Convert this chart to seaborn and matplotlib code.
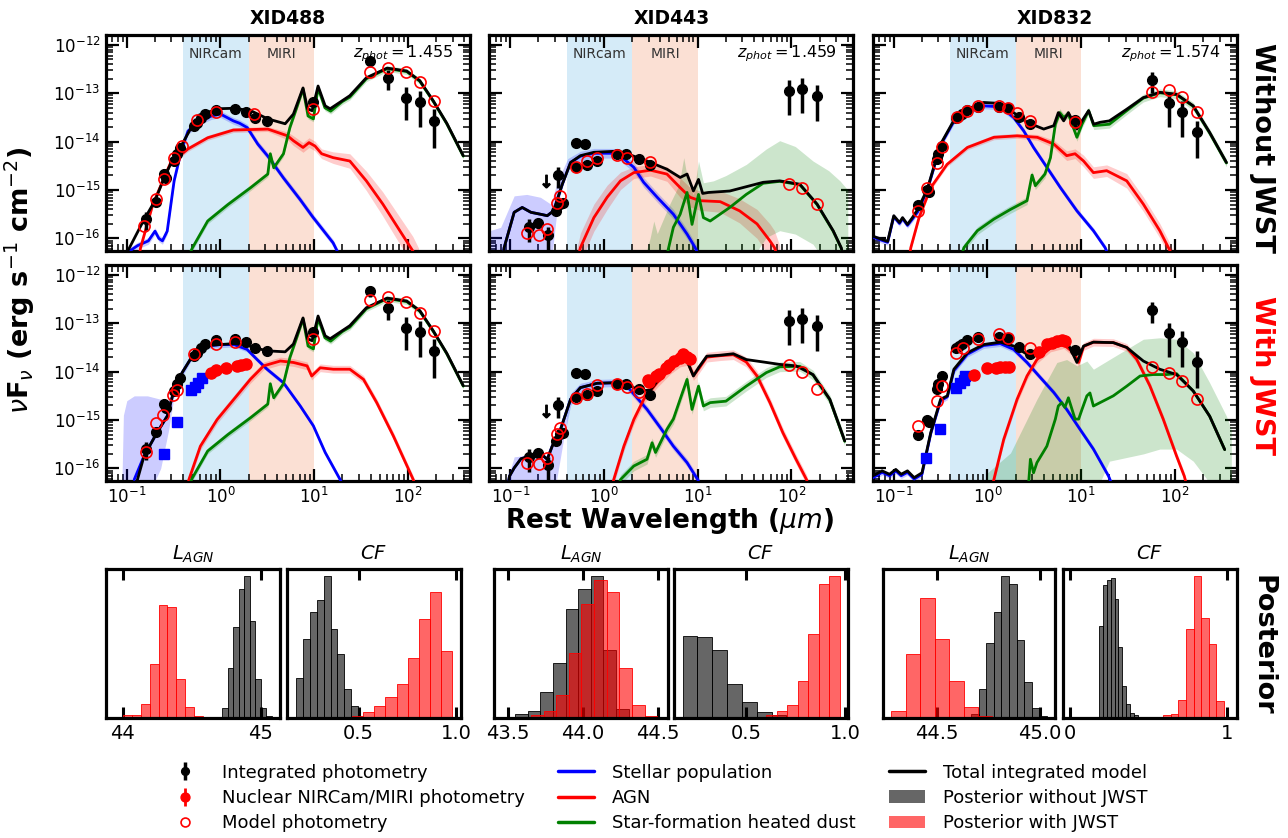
import numpy as np
import pandas as pd
import matplotlib
matplotlib.use("Agg")
import matplotlib.pyplot as plt
import seaborn as sns
from matplotlib.lines import Line2D
from matplotlib.patches import Patch
from matplotlib.ticker import FixedLocator, LogLocator, NullFormatter, LogFormatterSciNotation

sns.set_theme(style="ticks")
plt.rcParams["font.family"] = ["DejaVu Sans"]
plt.rcParams["mathtext.fontset"] = "dejavusans"
for k in ["axes.edgecolor", "xtick.color", "ytick.color", "text.color", "axes.labelcolor"]:
    plt.rcParams[k] = "black"

# ======================= DATA (log10 of nuFnu in erg/s/cm2, wavelength in micron) =======================
# ---------------- XID488 ----------------
phot488_wl = [0.159, 0.204, 0.249, 0.264, 0.318, 0.346, 0.366, 0.52, 0.565, 0.62, 0.676, 0.885, 1.44, 1.85, 2.36, 3.14, 9.6, 39.4, 61.7, 95.5, 136, 191]
phot488_lf = [-15.60, -15.24, -14.67, -14.75, -14.40, -14.26, -14.13, -13.67, -13.61, -13.51, -13.43, -13.34, -13.33, -13.38, -13.52, -13.57, -13.19, -12.33, -12.68, -13.09, -13.18, -13.57]
phot488_err = [0.4, 0.15, 0.3, 0.2, 0.15, 0.15, 0.15, 0.08, 0.08, 0.08, 0.08, 0.08, 0.08, 0.08, 0.08, 0.08, 0.15, 0.25, 0.45, 0.65, 0.7, 0.72]
mod488a_wl = [0.153, 0.204, 0.249, 0.318, 0.39, 0.565, 0.885, 2.26, 9.6, 39.4, 61.7, 95.5, 136, 191]
mod488a_lf = [-15.74, -15.19, -14.78, -14.33, -14.09, -13.56, -13.38, -13.43, -13.33, -12.57, -12.47, -12.57, -12.76, -13.16]
mod488b_wl = [0.16, 0.204, 0.245, 0.31, 0.34, 0.52, 0.885, 1.44, 9.6, 39.4, 61.7, 95.5, 136, 191]
mod488b_lf = [-15.66, -15.07, -14.90, -14.49, -14.37, -13.63, -13.42, -13.39, -13.33, -12.52, -12.46, -12.56, -12.78, -13.16]
nuc488_wl = [0.8, 0.9, 1.15, 1.5, 1.65, 1.85]
nuc488_lf = [-14.02, -13.96, -13.92, -13.88, -13.86, -13.85]
hst488_wl = [0.25, 0.346, 0.49, 0.53, 0.58, 0.64]
hst488_lf = [-15.71, -15.05, -14.37, -14.31, -14.24, -14.14]

star488a_wl = [0.10, 0.13, 0.17, 0.20, 0.22, 0.24, 0.27, 0.32, 0.38, 0.45, 0.61, 0.80, 1.0, 1.37, 1.6, 1.93, 2.5, 3.2, 4.7, 7.1, 9.6, 15.9, 18]
star488a_lf = [-16.3, -16.15, -16.05, -15.85, -16.0, -16.05, -15.85, -14.81, -14.2, -13.78, -13.57, -13.47, -13.43, -13.57, -13.62, -13.71, -14.05, -14.3, -14.75, -15.2, -15.55, -16.09, -16.3]
agn488a_wl = [0.13, 0.14, 0.19, 0.29, 0.45, 0.73, 1.37, 3.2, 5.2, 6.0, 7.6, 8.8, 10.2, 12.0, 15.9, 24, 36, 54, 82, 113, 130]
agn488a_lf = [-16.6, -16.2, -15.29, -14.46, -14.15, -13.92, -13.76, -13.74, -13.88, -13.98, -14.12, -14.02, -14.09, -14.25, -14.33, -14.40, -14.81, -15.29, -15.84, -16.26, -16.5]
agn488a_w = [0.05, 0.05, 0.05, 0.05, 0.05, 0.05, 0.05, 0.05, 0.08, 0.1, 0.1, 0.1, 0.1, 0.1, 0.12, 0.15, 0.2, 0.25, 0.28, 0.3, 0.3]
sf488_wl = [0.45, 0.5, 0.73, 1.2, 2.1, 3.2, 3.4, 3.7, 4.7, 5.5, 6.5, 7.6, 8.6, 9.8, 11.0, 13.0, 15.0, 20, 24, 36, 60, 97, 134, 187, 260, 390]
sf488_lf = [-16.4, -16.2, -15.64, -15.3, -14.95, -14.67, -14.25, -14.54, -14.25, -13.71, -13.30, -12.91, -13.47, -13.53, -12.89, -13.30, -13.37, -13.17, -13.08, -12.70, -12.49, -12.55, -12.75, -13.17, -13.63, -14.30]
tot488a_wl = [0.1, 0.15, 0.2, 0.25, 0.316, 0.39, 0.52, 0.66, 0.93, 1.4, 2.1, 3.2, 4.9, 6.0, 7.6, 8.5, 9.5, 11, 13.1, 14.8, 24, 36, 60, 97, 134, 187, 260, 390]
tot488a_lf = [-16.3, -15.64, -15.22, -14.75, -14.33, -14.05, -13.61, -13.43, -13.32, -13.31, -13.36, -13.53, -13.63, -13.43, -12.89, -13.32, -13.36, -12.85, -13.26, -13.32, -13.05, -12.68, -12.48, -12.54, -12.74, -13.16, -13.62, -14.29]

star488b_wl = [0.12, 0.153, 0.21, 0.27, 0.32, 0.39, 0.5, 0.72, 1.0, 1.39, 1.92, 2.46, 3.14, 4.7, 7.1, 9.8, 13.1, 18.9, 22]
star488b_lf = [-16.23, -15.74, -15.26, -14.92, -14.37, -14.02, -13.68, -13.47, -13.44, -13.44, -13.54, -13.75, -13.95, -14.23, -14.71, -15.12, -15.67, -16.23, -16.5]
star488b_bwl = [0.085, 0.088, 0.092, 0.10, 0.12, 0.166, 0.23, 0.28, 0.32, 0.39, 0.5, 0.72, 1.39, 1.92, 2.46, 3.14, 4.7, 7.1, 9.8, 13.1, 18.9, 22]
star488b_bhi = [-16.6, -16.6, -14.9, -14.6, -14.50, -14.50, -14.57, -14.7, -14.3, -13.95, -13.63, -13.42, -13.39, -13.49, -13.70, -13.90, -14.18, -14.66, -15.07, -15.62, -16.18, -16.45]
star488b_blo = [-16.6, -16.6, -16.6, -16.6, -16.6, -16.6, -16.0, -15.2, -14.5, -14.1, -13.73, -13.52, -13.49, -13.59, -13.80, -14.0, -14.28, -14.76, -15.17, -15.72, -16.28, -16.55]
agn488b_wl = [0.42, 0.46, 0.61, 0.92, 1.39, 2.08, 2.89, 4.35, 6.0, 8.4, 9.4, 11.6, 16, 24, 33.6, 46.5, 70, 114, 125]
agn488b_lf = [-16.6, -16.23, -15.54, -14.99, -14.57, -14.16, -13.88, -13.78, -13.81, -13.88, -14.09, -13.92, -13.95, -13.95, -14.16, -14.64, -15.33, -16.23, -16.45]
tot488b_wl = [0.12, 0.13, 0.153, 0.21, 0.27, 0.32, 0.39, 0.5, 0.72, 1.39, 1.92, 2.26, 3.14, 4.9, 6.0, 7.6, 8.5, 9.5, 11, 13.1, 14.8, 24, 36, 60, 97, 134, 187, 260, 390]
tot488b_lf = [-16.5, -16.23, -15.74, -15.26, -14.92, -14.37, -14.02, -13.68, -13.46, -13.42, -13.45, -13.50, -13.57, -13.59, -13.43, -12.89, -13.32, -13.36, -12.85, -13.26, -13.32, -13.05, -12.68, -12.48, -12.54, -12.74, -13.16, -13.62, -14.29]

# ---------------- XID443 ----------------
phot443_wl = [0.159, 0.20, 0.255, 0.305, 0.325, 0.339, 0.362, 0.50, 0.625, 0.50, 0.652, 0.846, 1.38, 1.73, 2.35, 3.07, 94.8, 130, 188]
phot443_lf = [-15.77, -15.69, -15.93, -15.43, -14.69, -15.29, -15.26, -14.02, -14.04, -14.52, -14.48, -14.41, -14.25, -14.25, -14.36, -14.48, -12.96, -12.92, -13.06]
phot443_err = [0.5, 0.2, 0.5, 0.15, 0.45, 0.15, 0.15, 0.08, 0.08, 0.08, 0.08, 0.08, 0.08, 0.08, 0.08, 0.08, 0.68, 0.68, 0.7]
ul443_wl = [0.239]
ul443_lf = [-14.81]
mod443a_wl = [0.152, 0.203, 0.245, 0.318, 0.339, 0.50, 0.652, 0.846, 1.38, 1.76, 3.07, 94.8, 130, 188]
mod443a_lf = [-15.88, -15.93, -15.81, -15.26, -15.13, -14.53, -14.41, -14.33, -14.27, -14.33, -14.42, -14.87, -14.96, -15.29]
mod443b_wl = [0.152, 0.203, 0.245, 0.318, 0.339, 0.50, 0.652, 0.846, 1.38, 1.76, 2.35, 94.8, 130, 188]
mod443b_lf = [-15.88, -15.90, -15.78, -15.28, -15.16, -14.54, -14.47, -14.28, -14.26, -14.32, -14.42, -13.87, -14.01, -14.35]
nuc443_wl = [2.95, 3.05, 3.6, 3.9, 4.6, 5.0, 5.6, 6.4, 7.0, 7.6, 8.3]
nuc443_lf = [-14.17, -14.22, -14.09, -14.04, -13.92, -13.86, -13.79, -13.72, -13.64, -13.69, -13.73]

star443a_wl = [0.08, 0.086, 0.11, 0.134, 0.166, 0.21, 0.248, 0.29, 0.359, 0.44, 0.56, 0.78, 1.27, 1.5, 2.08, 2.65, 3.7, 5.5, 7.7, 9.4, 10.5]
star443a_lf = [-16.6, -16.19, -15.46, -15.36, -15.46, -15.50, -15.53, -15.43, -14.88, -14.43, -14.30, -14.24, -14.24, -14.30, -14.53, -14.84, -15.15, -15.50, -15.91, -16.19, -16.4]
star443a_bwl = [0.06, 0.079, 0.11, 0.15, 0.21, 0.27, 0.32, 0.41, 0.56, 0.78, 1.27, 1.5, 2.08, 2.65, 3.7, 5.5, 7.7, 9.4, 10.5]
star443a_bhi = [-15.84, -15.77, -15.12, -15.09, -15.15, -15.29, -14.81, -14.35, -14.20, -14.14, -14.14, -14.20, -14.43, -14.74, -15.05, -15.40, -15.81, -16.09, -16.3]
star443a_blo = [-16.6, -16.6, -16.6, -16.6, -16.6, -16.6, -15.3, -14.55, -14.40, -14.34, -14.34, -14.40, -14.63, -14.94, -15.25, -15.60, -16.01, -16.29, -16.5]
agn443a_wl = [0.5, 0.56, 0.78, 1.08, 1.5, 2.08, 3.13, 4.7, 6.5, 8.3, 10.6, 17.4, 28, 43, 59, 66, 75]
agn443a_lf = [-16.6, -16.19, -15.57, -15.15, -14.81, -14.64, -14.59, -14.67, -14.95, -15.15, -15.22, -15.24, -15.43, -15.70, -16.05, -16.19, -16.5]
agn443a_w = [0.3, 0.3, 0.28, 0.25, 0.18, 0.12, 0.12, 0.15, 0.2, 0.2, 0.2, 0.22, 0.25, 0.3, 0.35, 0.35, 0.35]
sf443a_wl = [4.5, 4.9, 5.5, 6.5, 7.7, 8.7, 10.2, 11.5, 13.6, 22, 33, 50, 75, 123, 188, 279, 340, 360]
sf443a_lf = [-16.5, -16.19, -15.77, -15.50, -15.05, -15.71, -15.09, -15.57, -15.64, -15.36, -15.09, -14.86, -14.82, -14.89, -15.30, -15.85, -16.2, -16.4]
sf443a_bwl = [2.5, 3.1, 3.4, 3.7, 5.0, 6.3, 7.1, 8.0, 9.0, 10.2, 11.5, 14.7, 20, 33, 54, 75, 110, 170, 250, 330, 400]
sf443a_bhi = [-16.6, -16.0, -15.64, -15.9, -15.3, -14.9, -14.33, -14.9, -15.1, -14.40, -14.85, -14.81, -14.7, -14.47, -14.15, -13.98, -14.1, -14.4, -14.6, -14.81, -15.0]
sf443a_blo = [-16.6, -16.6, -16.6, -16.6, -16.6, -16.6, -16.6, -16.6, -16.6, -16.6, -16.6, -16.6, -16.6, -16.6, -15.98, -15.84, -15.91, -16.12, -16.6, -16.6, -16.6]
tot443a_wl = [0.08, 0.086, 0.11, 0.134, 0.166, 0.21, 0.248, 0.29, 0.359, 0.44, 0.56, 0.78, 1.27, 1.76, 2.88, 4.7, 6.5, 7.7, 9.0, 10.2, 11.3, 13, 22, 50, 75, 123, 188, 279, 340, 360]
tot443a_lf = [-16.6, -16.19, -15.46, -15.36, -15.46, -15.50, -15.53, -15.43, -14.88, -14.43, -14.29, -14.22, -14.20, -14.25, -14.40, -14.57, -14.74, -14.67, -15.02, -14.78, -15.07, -15.05, -15.02, -14.84, -14.81, -14.88, -15.29, -15.84, -16.19, -16.4]

star443b_wl = [0.09, 0.098, 0.11, 0.13, 0.166, 0.21, 0.248, 0.28, 0.344, 0.44, 0.56, 0.846, 1.27, 1.76, 2.25, 2.88, 4.0, 5.5, 7.7, 10, 11]
star443b_lf = [-16.6, -16.16, -15.99, -15.80, -15.74, -15.69, -15.81, -15.54, -15.19, -14.57, -14.33, -14.24, -14.23, -14.30, -14.54, -14.78, -15.16, -15.54, -15.88, -16.23, -16.4]
star443b_bwl = [0.085, 0.093, 0.11, 0.15, 0.248, 0.29, 0.37, 0.44, 0.56, 0.846, 1.27, 1.76, 2.25, 2.88, 4.0, 5.5, 7.7, 10, 11]
star443b_bhi = [-16.6, -16.23, -15.76, -15.73, -15.76, -15.42, -14.93, -14.45, -14.24, -14.16, -14.15, -14.22, -14.46, -14.70, -15.08, -15.46, -15.80, -16.15, -16.3]
star443b_blo = [-16.6, -16.6, -16.6, -16.6, -16.6, -16.6, -15.4, -14.7, -14.42, -14.32, -14.31, -14.38, -14.62, -14.86, -15.24, -15.62, -15.96, -16.31, -16.5]
agn443b_wl = [1.15, 1.27, 1.63, 2.08, 2.66, 3.68, 5.1, 6.5, 7.7, 9.0, 10.2, 12.5, 17.4, 24, 33, 43, 59, 81, 112, 145, 160]
agn443b_lf = [-16.6, -16.23, -15.54, -14.99, -14.57, -14.23, -13.95, -13.80, -13.77, -14.08, -13.95, -13.70, -13.67, -13.65, -13.80, -14.09, -14.64, -15.26, -15.81, -16.23, -16.5]
sf443b_wl = [1.3, 1.5, 2.08, 2.88, 3.26, 3.55, 4.7, 5.5, 6.5, 7.7, 8.7, 10.2, 11.5, 13.6, 20, 33, 54, 75, 123, 170, 257, 371]
sf443b_lf = [-16.6, -16.23, -15.95, -15.81, -15.47, -15.67, -15.19, -14.98, -14.57, -14.16, -14.78, -14.30, -14.71, -14.64, -14.61, -14.30, -14.02, -13.90, -13.89, -14.07, -14.58, -15.44]
tot443b_wl = [0.09, 0.098, 0.11, 0.13, 0.166, 0.21, 0.248, 0.28, 0.344, 0.44, 0.56, 0.846, 1.27, 1.76, 2.44, 3.13, 4.33, 6.5, 7.7, 9.0, 10.2, 12.5, 17.4, 24, 33, 50, 75, 112, 170, 257, 371]
tot443b_lf = [-16.6, -16.16, -15.99, -15.80, -15.74, -15.69, -15.81, -15.54, -15.19, -14.57, -14.33, -14.24, -14.23, -14.26, -14.40, -14.38, -14.02, -13.78, -13.78, -14.09, -13.92, -13.68, -13.66, -13.63, -13.75, -13.80, -13.85, -13.88, -14.06, -14.57, -15.43]

# ---------------- XID832 ----------------
phot832_wl = [0.18, 0.228, 0.235, 0.286, 0.30, 0.33, 0.457, 0.496, 0.54, 0.60, 0.79, 1.32, 1.65, 2.15, 2.87, 8.6, 56.5, 87, 120, 174]
phot832_lf = [-15.31, -15.00, -15.05, -14.36, -14.26, -14.10, -13.52, -13.47, -13.43, -13.35, -13.28, -13.28, -13.31, -13.50, -13.64, -13.56, -12.73, -13.21, -13.38, -13.81]
phot832_err = [0.1, 0.1, 0.1, 0.1, 0.1, 0.1, 0.08, 0.08, 0.08, 0.08, 0.08, 0.08, 0.08, 0.08, 0.08, 0.1, 0.45, 0.68, 0.7, 0.7]
mod832a_wl = [0.18, 0.228, 0.286, 0.33, 0.476, 0.60, 0.79, 1.32, 1.65, 2.07, 2.87, 8.6, 56.5, 87, 120, 174]
mod832a_lf = [-15.43, -14.95, -14.45, -14.12, -13.49, -13.36, -13.27, -13.26, -13.30, -13.40, -13.58, -13.60, -12.98, -12.94, -13.07, -13.38]
mod832b_wl = [0.18, 0.286, 0.33, 0.457, 0.55, 0.79, 1.32, 1.65, 2.87, 56.5, 87, 120, 174]
mod832b_lf = [-15.12, -14.61, -14.30, -13.61, -13.52, -13.32, -13.22, -13.30, -13.52, -13.90, -14.02, -14.19, -14.57]
nuc832_wl = [0.716, 1.0, 1.22, 1.37, 1.55, 1.69, 3.52, 4.3, 4.9, 5.5, 6.2, 6.8]
nuc832_lf = [-14.06, -13.92, -13.92, -13.90, -13.90, -13.90, -13.59, -13.42, -13.40, -13.37, -13.35, -13.37]
hst832_wl = [0.223, 0.311, 0.457, 0.508, 0.56, 0.58]
hst832_lf = [-15.78, -15.18, -14.33, -14.24, -14.17, -14.10]

star832a_wl = [0.059, 0.086, 0.10, 0.115, 0.124, 0.14, 0.158, 0.18, 0.228, 0.316, 0.438, 0.61, 0.91, 1.37, 1.9, 2.44, 3.1, 4.3, 6.0, 9.0, 13.5, 18, 20]
star832a_lf = [-15.97, -16.08, -15.55, -15.69, -15.59, -15.73, -15.60, -15.45, -15.0, -14.07, -13.58, -13.37, -13.26, -13.28, -13.50, -13.78, -14.12, -14.53, -14.95, -15.43, -15.84, -16.19, -16.4]
agn832a_wl = [0.14, 0.152, 0.186, 0.248, 0.37, 0.61, 1.17, 2.07, 3.4, 5.1, 7.0, 8.6, 10.6, 13.5, 18.7, 30.6, 46, 69, 89, 100]
agn832a_lf = [-16.6, -16.19, -15.57, -14.95, -14.47, -14.12, -13.91, -13.88, -13.91, -14.05, -14.29, -14.25, -14.40, -14.64, -14.60, -14.81, -15.29, -15.84, -16.26, -16.5]
agn832a_w = [0.05, 0.05, 0.05, 0.05, 0.05, 0.05, 0.05, 0.05, 0.06, 0.08, 0.1, 0.1, 0.12, 0.12, 0.12, 0.15, 0.15, 0.15, 0.15, 0.15]
sf832a_wl = [0.5, 0.56, 0.78, 1.17, 1.76, 2.64, 2.99, 3.24, 4.1, 4.7, 5.3, 5.9, 6.5, 7.3, 9.0, 10.2, 12, 13.6, 20, 30.6, 46, 69, 104, 157, 235, 355]
sf832a_lf = [-16.5, -16.19, -15.84, -15.60, -15.40, -15.22, -14.69, -14.91, -14.67, -14.33, -13.64, -13.40, -13.50, -13.43, -13.91, -13.64, -13.36, -13.67, -13.64, -13.36, -13.10, -12.99, -13.03, -13.27, -13.82, -14.44]
tot832a_wl = [0.059, 0.086, 0.10, 0.115, 0.124, 0.14, 0.158, 0.18, 0.228, 0.316, 0.438, 0.61, 0.91, 1.37, 1.9, 2.64, 3.98, 5.1, 5.7, 6.5, 7.3, 9.0, 10.2, 12, 13.6, 15.9, 20, 30.6, 46, 69, 104, 157, 235, 355]
tot832a_lf = [-15.95, -16.06, -15.53, -15.67, -15.57, -15.71, -15.57, -15.40, -14.98, -14.05, -13.56, -13.33, -13.19, -13.21, -13.40, -13.60, -13.74, -13.67, -13.40, -13.57, -13.40, -13.74, -13.57, -13.36, -13.64, -13.60, -13.57, -13.33, -13.09, -12.98, -13.02, -13.26, -13.81, -14.43]

star832b_wl = [0.059, 0.075, 0.09, 0.105, 0.12, 0.14, 0.165, 0.2, 0.248, 0.316, 0.373, 0.438, 0.61, 0.91, 1.37, 1.9, 2.64, 3.66, 5.1, 7.0, 9.7, 13.5, 19.6, 22]
star832b_lf = [-16.2, -16.08, -16.15, -16.05, -16.15, -16.08, -16.22, -16.12, -15.28, -14.60, -14.52, -13.98, -13.64, -13.46, -13.42, -13.54, -13.81, -14.12, -14.43, -14.78, -15.19, -15.60, -16.16, -16.4]
agn832b_wl = [1.05, 1.17, 1.49, 2.07, 2.64, 3.37, 4.7, 6.5, 8.3, 9.4, 10.6, 13.5, 22, 30.6, 39, 54, 75, 104, 126, 140]
agn832b_lf = [-16.6, -16.23, -15.40, -14.57, -14.09, -13.75, -13.51, -13.44, -13.61, -13.81, -13.48, -13.39, -13.40, -13.50, -13.74, -14.29, -14.98, -15.74, -16.16, -16.5]
sf832b_wl = [2.7, 2.87, 3.1, 3.37, 4.3, 5.3, 5.7, 6.2, 6.7, 7.3, 8.6, 9.4, 10.2, 11.5, 12.4, 13.5, 15.9, 22, 30.6, 42.5, 58.5, 81, 104, 157, 235, 340]
sf832b_lf = [-16.5, -15.81, -16.09, -15.88, -15.54, -14.98, -14.71, -14.64, -14.74, -14.54, -14.98, -14.98, -14.78, -14.50, -14.44, -14.71, -14.64, -14.50, -14.30, -14.09, -14.06, -14.06, -14.04, -14.40, -14.92, -15.61]
sf832b_bwl = [0.95, 1.0, 1.76, 3.37, 5.5, 7.0, 9.0, 11.5, 13.5, 20, 46, 69, 104, 157, 235, 355, 400]
sf832b_bhi = [-16.6, -16.09, -15.68, -14.57, -13.81, -13.75, -13.88, -13.78, -13.95, -13.75, -13.33, -13.30, -13.33, -13.61, -14.23, -14.92, -15.2]
sf832b_blo = [-16.6, -16.6, -16.6, -16.6, -16.6, -16.6, -16.6, -16.6, -16.6, -15.85, -15.7, -15.6, -15.6, -15.85, -16.3, -16.6, -16.6]
tot832b_wl = [0.059, 0.075, 0.09, 0.105, 0.12, 0.14, 0.165, 0.2, 0.248, 0.316, 0.373, 0.438, 0.61, 0.91, 1.37, 1.9, 2.64, 3.37, 4.7, 6.0, 7.3, 9.0, 10.6, 13.5, 22, 30.6, 46, 69, 104, 157, 235, 340]
tot832b_lf = [-16.16, -16.05, -16.12, -16.02, -16.12, -16.05, -16.19, -16.09, -15.26, -14.57, -14.50, -13.95, -13.61, -13.44, -13.39, -13.47, -13.64, -13.57, -13.48, -13.44, -13.44, -13.81, -13.47, -13.39, -13.40, -13.50, -13.78, -13.95, -14.06, -14.40, -14.92, -15.61]

# ---------------- Posterior histograms (bin edges, relative counts) ----------------
lagn488_wo_edges = [44.681, 44.722, 44.763, 44.801, 44.842, 44.881, 44.919, 44.960, 44.999, 45.040, 45.081]
lagn488_wo_h = [0.7, 7.1, 35.5, 63.8, 91.0, 100, 68.6, 27.2, 7.1, 1.2]
lagn488_w_edges = [44.004, 44.068, 44.132, 44.196, 44.260, 44.324, 44.388, 44.452, 44.516, 44.58]
lagn488_w_h = [2.1, 2.4, 10.2, 38.3, 79.7, 78.0, 27.7, 7.6, 1.2]
cf488_wo_edges = [0.180, 0.215, 0.250, 0.286, 0.321, 0.356, 0.391, 0.426, 0.462, 0.497]
cf488_wo_h = [28.4, 55.6, 74.9, 83.2, 100, 62.6, 45.4, 20.1, 8.3]
cf488_w_edges = [0.466, 0.523, 0.581, 0.638, 0.695, 0.753, 0.810, 0.867, 0.925, 0.982]
cf488_w_h = [1.7, 4.0, 8.3, 14.7, 24.3, 42.1, 69.7, 89.1, 47.3]

lagn443_wo_edges = [43.545, 43.630, 43.714, 43.798, 43.883, 43.967, 44.052, 44.136, 44.220, 44.305]
lagn443_wo_h = [2.8, 5.2, 18.4, 38.8, 76.5, 91.1, 100, 48.2, 6.6]
lagn443_w_edges = [43.651, 43.736, 43.820, 43.905, 43.989, 44.073, 44.158, 44.242, 44.327, 44.411, 44.496]
lagn443_w_h = [1.9, 5.2, 16.0, 45.9, 80.0, 96.9, 88.9, 35.3, 9.4, 1.6]
cf443_wo_edges = [0.177, 0.252, 0.327, 0.402, 0.477, 0.552, 0.627, 0.702]
cf443_wo_h = [58.1, 57.2, 48.2, 24.2, 11.5, 4.5, 2.4]
cf443_w_edges = [0.601, 0.654, 0.707, 0.760, 0.813, 0.866, 0.919, 0.972]
cf443_w_h = [1.9, 5.2, 9.4, 25.9, 59.5, 94.1, 100]

lagn832_wo_edges = [44.666, 44.703, 44.739, 44.776, 44.812, 44.849, 44.886, 44.922, 44.959, 44.995, 45.032]
lagn832_wo_h = [3.1, 20.5, 52.9, 74.6, 100, 94.1, 55.3, 25.4, 7.1, 1.2]
lagn832_w_edges = [44.279, 44.349, 44.419, 44.489, 44.559, 44.629, 44.699, 44.769]
lagn832_w_h = [5.2, 45.4, 84.7, 55.8, 26.4, 7.5, 1.6]
cf832_wo_edges = [0.183, 0.208, 0.233, 0.257, 0.282, 0.307, 0.332, 0.357, 0.381, 0.406, 0.431]
cf832_wo_h = [64.7, 93.4, 97.6, 98.8, 84.0, 50.1, 22.4, 10.1, 3.5, 1.9]
cf832_w_edges = [0.594, 0.642, 0.690, 0.739, 0.787, 0.835, 0.884, 0.932, 0.980]
cf832_w_h = [1.9, 3.1, 12.9, 62.8, 100, 70.6, 51.8, 12.2]

sources = ["XID488", "XID443", "XID832"]
zphot = ["1.455", "1.459", "1.574"]
rows = ["Without JWST", "With JWST"]
sed_xticks = [0.1, 1.0, 10.0, 100.0]
sed_yticks = [1e-16, 1e-15, 1e-14, 1e-13, 1e-12]

# ======================= STYLE =======================
NIR_COLOR = "#d5ebf8"
MIRI_COLOR = "#fbe0d4"
C_STAR, C_AGN, C_SF, C_TOT = "#0000ff", "#ff0000", "#008000", "#000000"
FW, FH = 1288.0, 838.0


def rect(x0, y0, x1, y1):
    return [x0 / FW, 1 - y1 / FH, (x1 - x0) / FW, (y1 - y0) / FH]


def P(lf):
    return np.power(10.0, np.asarray(lf, dtype=float))


def style_sed(ax, labelx, labely):
    ax.set_xscale("log")
    ax.set_yscale("log")
    ax.set_xlim(0.06, 460)
    ax.set_ylim(5.5e-17, 1.6e-12)
    ax.xaxis.set_major_locator(FixedLocator(sed_xticks))
    ax.yaxis.set_major_locator(FixedLocator(sed_yticks))
    for axis in (ax.xaxis, ax.yaxis):
        axis.set_major_formatter(LogFormatterSciNotation())
        axis.set_minor_locator(LogLocator(base=10, subs=np.arange(2, 10), numticks=300))
        axis.set_minor_formatter(NullFormatter())
    ax.tick_params(which="both", direction="in", top=True, right=True,
                   labelbottom=labelx, labelleft=labely)
    ax.tick_params(which="major", length=9, width=1.6, labelsize=12, pad=4)
    ax.tick_params(which="minor", length=5, width=1.1)
    for s in ax.spines.values():
        s.set_linewidth(2.3)
    ax.set_xlabel("")
    ax.set_ylabel("")


def draw_sed(ax, comps, phot, model, nuc=None, hst=None, ul=None):
    ax.axvspan(0.4, 2.0, color=NIR_COLOR, lw=0, zorder=0)
    ax.axvspan(2.0, 10.0, color=MIRI_COLOR, lw=0, zorder=0)
    for wl, lf, col, band in comps:
        wl = np.asarray(wl, float)
        f = P(lf)
        if isinstance(band, tuple):
            bw, blo, bhi = band
            ax.fill_between(bw, P(blo), P(bhi), color=col, alpha=0.2, lw=0, zorder=1)
        elif band is not None:
            w = np.asarray(band, float)
            ax.fill_between(wl, f / 10 ** w, f * 10 ** w, color=col, alpha=0.2, lw=0, zorder=1)
    for wl, lf, col, band in comps:
        sns.lineplot(x=np.asarray(wl, float), y=P(lf), ax=ax, color=col, lw=2.0,
                     sort=False, estimator=None, legend=False, zorder=3)
    pw, plf, pe = phot
    pf = P(plf)
    eb = ax.errorbar(pw, pf, yerr=np.asarray(pe) * pf, fmt="o", color="black", ms=7,
                     elinewidth=2.5, capsize=0, zorder=6)
    nb = None
    if nuc is not None:
        nf = P(nuc[1])
        nb = ax.errorbar(nuc[0], nf, yerr=0.04 * nf, fmt="o", color="red", ms=8,
                         elinewidth=2, capsize=0, zorder=6)
    if hst is not None:
        ax.plot(hst[0], P(hst[1]), "s", color="#0000ff", ms=7, ls="none", zorder=6)
    if ul is not None:
        ax.plot(ul[0], P(ul[1]), ls="none", marker=r"$\downarrow$", ms=9, color="black", zorder=6)
    mh, = ax.plot(model[0], P(model[1]), "o", mfc="none", mec="red", mew=1.2, ms=8, ls="none", zorder=7)
    return eb, nb, mh


fig = plt.figure(figsize=(12.88, 8.38), dpi=100)

col_x = [(106, 470), (489.5, 853.5), (873, 1237)]
row_y = [(35, 251), (265, 481)]

panels = {
    (0, 0): dict(comps=[(star488a_wl, star488a_lf, C_STAR, 0.07),
                        (agn488a_wl, agn488a_lf, C_AGN, agn488a_w),
                        (sf488_wl, sf488_lf, C_SF, 0.06),
                        (tot488a_wl, tot488a_lf, C_TOT, None)],
                 phot=(phot488_wl, phot488_lf, phot488_err), model=(mod488a_wl, mod488a_lf)),
    (1, 0): dict(comps=[(star488b_wl, star488b_lf, C_STAR, (star488b_bwl, star488b_blo, star488b_bhi)),
                        (agn488b_wl, agn488b_lf, C_AGN, 0.08),
                        (sf488_wl, sf488_lf, C_SF, 0.06),
                        (tot488b_wl, tot488b_lf, C_TOT, None)],
                 phot=(phot488_wl, phot488_lf, phot488_err), model=(mod488b_wl, mod488b_lf),
                 nuc=(nuc488_wl, nuc488_lf), hst=(hst488_wl, hst488_lf)),
    (0, 1): dict(comps=[(star443a_wl, star443a_lf, C_STAR, (star443a_bwl, star443a_blo, star443a_bhi)),
                        (agn443a_wl, agn443a_lf, C_AGN, agn443a_w),
                        (sf443a_wl, sf443a_lf, C_SF, (sf443a_bwl, sf443a_blo, sf443a_bhi)),
                        (tot443a_wl, tot443a_lf, C_TOT, None)],
                 phot=(phot443_wl, phot443_lf, phot443_err), model=(mod443a_wl, mod443a_lf),
                 ul=(ul443_wl, ul443_lf)),
    (1, 1): dict(comps=[(star443b_wl, star443b_lf, C_STAR, (star443b_bwl, star443b_blo, star443b_bhi)),
                        (agn443b_wl, agn443b_lf, C_AGN, 0.1),
                        (sf443b_wl, sf443b_lf, C_SF, 0.1),
                        (tot443b_wl, tot443b_lf, C_TOT, None)],
                 phot=(phot443_wl, phot443_lf, phot443_err), model=(mod443b_wl, mod443b_lf),
                 nuc=(nuc443_wl, nuc443_lf), ul=(ul443_wl, ul443_lf)),
    (0, 2): dict(comps=[(star832a_wl, star832a_lf, C_STAR, 0.06),
                        (agn832a_wl, agn832a_lf, C_AGN, agn832a_w),
                        (sf832a_wl, sf832a_lf, C_SF, 0.08),
                        (tot832a_wl, tot832a_lf, C_TOT, None)],
                 phot=(phot832_wl, phot832_lf, phot832_err), model=(mod832a_wl, mod832a_lf)),
    (1, 2): dict(comps=[(star832b_wl, star832b_lf, C_STAR, 0.06),
                        (agn832b_wl, agn832b_lf, C_AGN, 0.08),
                        (sf832b_wl, sf832b_lf, C_SF, (sf832b_bwl, sf832b_blo, sf832b_bhi)),
                        (tot832b_wl, tot832b_lf, C_TOT, None)],
                 phot=(phot832_wl, phot832_lf, phot832_err), model=(mod832b_wl, mod832b_lf),
                 nuc=(nuc832_wl, nuc832_lf), hst=(hst832_wl, hst832_lf)),
}

handles = {}
for (r, c), spec in panels.items():
    x0, x1 = col_x[c]
    y0, y1 = row_y[r]
    ax = fig.add_axes(rect(x0, y0, x1, y1))
    ax.set_xscale("log")
    ax.set_yscale("log")
    eb, nb, mh = draw_sed(ax, spec["comps"], spec["phot"], spec["model"],
                          spec.get("nuc"), spec.get("hst"), spec.get("ul"))
    style_sed(ax, labelx=(r == 1), labely=(c == 0))
    if r == 0:
        handles["phot"] = eb
        handles["model"] = mh
        tr = ax.get_xaxis_transform()
        ax.text(np.sqrt(0.4 * 2.0), 0.91, "NIRcam", transform=tr, ha="center", va="center",
                fontsize=10, color="#333333")
        ax.text(np.sqrt(2.0 * 10.0), 0.91, "MIRI", transform=tr, ha="center", va="center",
                fontsize=10, color="#333333")
        ax.text(0.955, 0.915, r"$z_{phot} = $" + zphot[c], transform=ax.transAxes,
                ha="right", va="center", fontsize=11.5)
        ax.set_title(sources[c], fontsize=13.5, fontweight="bold", pad=8)
    elif nb is not None:
        handles["nuc"] = nb

# axis labels and row labels
fig.text(20 / FW, 1 - 280 / FH, r"$\nu$F$_\nu$ (erg s$^{-1}$ cm$^{-2}$)", rotation=90,
         ha="center", va="center", fontsize=19.5, fontweight="bold")
fig.text(670 / FW, 1 - 521 / FH, r"Rest Wavelength ($\mu m$)", ha="center", va="center",
         fontsize=19, fontweight="bold")
fig.text(1262 / FW, 1 - 148 / FH, rows[0], rotation=-90, ha="center", va="center",
         fontsize=19.5, fontweight="bold", color="black")
fig.text(1262 / FW, 1 - 375 / FH, rows[1], rotation=-90, ha="center", va="center",
         fontsize=19.5, fontweight="bold", color="red")
fig.text(1262 / FW, 1 - 645 / FH, "Posterior", rotation=-90, ha="center", va="center",
         fontsize=19.5, fontweight="bold", color="black")

# ======================= Posterior histograms =======================
hist_specs = [
    ((106, 280), lagn488_wo_edges, lagn488_wo_h, lagn488_w_edges, lagn488_w_h, (43.879, 45.14), [44, 45], ["44", "45"], r"$L_{AGN}$"),
    ((287, 461), cf488_wo_edges, cf488_wo_h, cf488_w_edges, cf488_w_h, (0.132, 1.026), [0.5, 1.0], ["0.5", "1.0"], r"$CF$"),
    ((494, 668), lagn443_wo_edges, lagn443_wo_h, lagn443_w_edges, lagn443_w_h, (43.405, 44.567), [43.5, 44.0, 44.5], ["43.5", "44.0", "44.5"], r"$L_{AGN}$"),
    ((674, 848), cf443_wo_edges, cf443_wo_h, cf443_w_edges, cf443_w_h, (0.134, 1.013), [0.5, 1.0], ["0.5", "1.0"], r"$CF$"),
    ((883, 1055), lagn832_wo_edges, lagn832_wo_h, lagn832_w_edges, lagn832_w_h, (44.239, 45.072), [44.5, 45.0], ["44.5", "45.0"], r"$L_{AGN}$"),
    ((1063, 1237), cf832_wo_edges, cf832_wo_h, cf832_w_edges, cf832_w_h, (-0.047, 1.064), [0, 1], ["0", "1"], r"$CF$"),
]
for (hx0, hx1), e0, h0, e1, h1, xl, ticks, tlabels, title in hist_specs:
    ax = fig.add_axes(rect(hx0, 569, hx1, 718))
    for edges, hts, col in ((e0, h0, "black"), (e1, h1, "red")):
        edges = np.asarray(edges, float)
        df = pd.DataFrame({"value": 0.5 * (edges[:-1] + edges[1:]), "count": np.asarray(hts, float)})
        sns.histplot(data=df, x="value", weights="count", bins=list(edges), ax=ax, color=col,
                     alpha=0.6, edgecolor=col, linewidth=0.6)
    ax.set_xlim(*xl)
    ax.set_xticks(ticks)
    ax.set_xticklabels(tlabels)
    ax.set_yticks([])
    ax.set_ylabel("")
    ax.set_xlabel("")
    ax.tick_params(axis="x", direction="in", top=True, length=8, width=2.2, labelsize=14, pad=4)
    for s in ax.spines.values():
        s.set_linewidth(2.3)
    ax.set_title(title, fontsize=14, pad=7)

# ======================= Legend =======================
leg_handles = [
    handles["phot"], handles["nuc"], handles["model"],
    Line2D([], [], color=C_STAR, lw=2.5), Line2D([], [], color=C_AGN, lw=2.5), Line2D([], [], color=C_SF, lw=2.5),
    Line2D([], [], color=C_TOT, lw=2.5),
    Patch(facecolor="black", alpha=0.6, lw=0), Patch(facecolor="red", alpha=0.6, lw=0),
]
leg_labels = ["Integrated photometry", "Nuclear NIRCam/MIRI photometry", "Model photometry",
              "Stellar population", "AGN", "Star-formation heated dust",
              "Total integrated model", "Posterior without JWST", "Posterior with JWST"]
fig.legend(leg_handles, leg_labels, ncol=3, loc="center", bbox_to_anchor=(657.5 / FW, 1 - 798 / FH),
           frameon=False, fontsize=13, columnspacing=1.85, handlelength=2.0, handletextpad=1.0,
           labelspacing=0.4, markerscale=0.8)

fig.savefig("out.png", dpi=100)
